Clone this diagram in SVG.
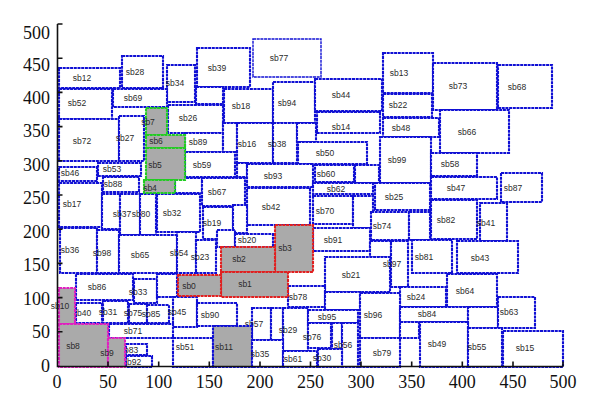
<svg xmlns="http://www.w3.org/2000/svg" width="600" height="411" viewBox="0 0 600 411">
<style>
rect{fill:#fff;stroke:#1010d4;stroke-width:2.1;stroke-dasharray:3 0.7}
rect.g{fill:#aaa}
rect.gn{fill:#aaa;stroke:#22cc22}
rect.rd{fill:#aaa;stroke:#e02020}
rect.mg{fill:#aaa;stroke:#e020c0}
rect.thin{stroke-width:1.4}
text{font-family:"Liberation Sans",Arial,sans-serif;font-size:8.5px;fill:#2a2a2a;text-anchor:middle}
.ax{stroke:#111;stroke-width:1.6;fill:none}
.tl{font-family:"Liberation Serif","Times New Roman",serif;font-size:18px;fill:#111}
.yl{text-anchor:end}
</style>
<rect x="0" y="0" width="600" height="411" style="fill:#fff;stroke:none"/>
<g id="blocks">
<g id="sb12"><rect x="59" y="68" width="61" height="20"/><text x="82" y="81">sb12</text></g>
<g id="sb28"><rect x="122" y="56" width="41" height="32"/><text x="135" y="75">sb28</text></g>
<g id="sb34"><rect x="167" y="65" width="28" height="37"/><text x="175" y="86">sb34</text></g>
<g id="sb39"><rect x="197" y="48" width="53" height="39"/><text x="217" y="71">sb39</text></g>
<g id="sb77"><rect class="thin" x="253" y="39" width="68" height="38"/><text x="279" y="61">sb77</text></g>
<g id="sb52"><rect x="59" y="89" width="53" height="30"/><text x="77" y="106">sb52</text></g>
<g id="sb69"><rect x="113" y="89" width="54" height="18"/><text x="133" y="101">sb69</text></g>
<g id="u1"><rect x="196" y="87" width="27" height="17"/></g>
<g id="sb18"><rect x="224" y="89" width="49" height="34"/><text x="241" y="109">sb18</text></g>
<g id="sb94"><rect x="273" y="82" width="42" height="41"/><text x="287" y="106">sb94</text></g>
<g id="sb44"><rect x="315" y="79" width="67" height="32"/><text x="341" y="98">sb44</text></g>
<g id="sb13"><rect x="383" y="53" width="50" height="40"/><text x="399" y="76">sb13</text></g>
<g id="sb73"><rect x="433" y="63" width="64" height="47"/><text x="458" y="89">sb73</text></g>
<g id="sb68"><rect x="498" y="65" width="54" height="43"/><text x="517" y="90">sb68</text></g>
<g id="sb22"><rect x="383" y="94" width="49" height="23"/><text x="398" y="108">sb22</text></g>
<g id="sb48"><rect x="383" y="118" width="56" height="19"/><text x="401" y="131">sb48</text></g>
<g id="sb66"><rect x="440" y="110" width="69" height="43"/><text x="467" y="135">sb66</text></g>
<g id="sb14"><rect x="317" y="112" width="63" height="21"/><text x="341" y="130">sb14</text></g>
<g id="sb72"><rect x="59" y="119" width="60" height="42"/><text x="82" y="144">sb72</text></g>
<g id="sb27"><rect x="119" y="116" width="25" height="45"/><text x="125" y="141">sb27</text></g>
<g id="sb26"><rect x="168" y="105" width="55" height="28"/><text x="188" y="121">sb26</text></g>
<g id="sb89"><rect x="185" y="133" width="38" height="19"/><text x="198" y="145">sb89</text></g>
<g id="u2"><rect x="223" y="123" width="14" height="29"/></g>
<g id="sb16"><rect x="237" y="123" width="36" height="40"/><text x="247" y="147">sb16</text></g>
<g id="sb38"><rect x="273" y="123" width="24" height="40"/><text x="277" y="147">sb38</text></g>
<g id="u3"><rect x="297" y="123" width="19" height="19"/></g>
<g id="sb50"><rect x="298" y="142" width="69" height="22"/><text x="325" y="156">sb50</text></g>
<g id="sb99"><rect x="380" y="137" width="51" height="46"/><text x="397" y="163">sb99</text></g>
<g id="sb46"><rect x="59" y="167" width="38" height="14"/><text x="70" y="176">sb46</text></g>
<g id="sb53"><rect x="98" y="163" width="43" height="13"/><text x="112" y="172">sb53</text></g>
<g id="sb88"><rect x="103" y="177" width="36" height="15"/><text x="113" y="187">sb88</text></g>
<g id="sb59"><rect x="185" y="152" width="50" height="25"/><text x="202" y="168">sb59</text></g>
<g id="u4"><rect x="237" y="163" width="10" height="14"/></g>
<g id="sb93"><rect x="247" y="164" width="66" height="23"/><text x="273" y="179">sb93</text></g>
<g id="sb60"><rect x="315" y="165" width="39" height="17"/><text x="326" y="177">sb60</text></g>
<g id="u5"><rect x="355" y="165" width="24" height="18"/></g>
<g id="sb58"><rect x="431" y="153" width="46" height="23"/><text x="450" y="167">sb58</text></g>
<g id="u6"><rect x="175" y="178" width="27" height="15"/></g>
<g id="sb67"><rect x="202" y="178" width="43" height="28"/><text x="217" y="195">sb67</text></g>
<g id="sb62"><rect x="313" y="183" width="60" height="11"/><text x="336" y="192">sb62</text></g>
<g id="sb25"><rect x="375" y="183" width="55" height="27"/><text x="394" y="200">sb25</text></g>
<g id="sb47"><rect x="431" y="177" width="66" height="22"/><text x="456" y="191">sb47</text></g>
<g id="sb87"><rect x="501" y="173" width="41" height="29"/><text x="513" y="191">sb87</text></g>
<g id="sb17"><rect x="59" y="183" width="43" height="44"/><text x="72" y="207">sb17</text></g>
<g id="u7"><rect x="102" y="194" width="18" height="35"/></g>
<g id="sb37"><rect x="120" y="194" width="20" height="41"/><text x="122" y="217">sb37</text></g>
<g id="sb80"><rect x="140" y="194" width="16" height="41"/><text x="141" y="217">sb80</text></g>
<g id="sb32"><rect x="157" y="194" width="43" height="38"/><text x="172" y="216">sb32</text></g>
<g id="sb42"><rect x="247" y="188" width="63" height="37"/><text x="271" y="210">sb42</text></g>
<g id="sb70"><rect x="313" y="196" width="40" height="28"/><text x="325" y="214">sb70</text></g>
<g id="u8"><rect x="353" y="196" width="20" height="32"/></g>
<g id="sb19"><rect x="203" y="207" width="30" height="32"/><text x="212" y="226">sb19</text></g>
<g id="u9"><rect x="233" y="205" width="14" height="28"/></g>
<g id="sb74"><rect x="371" y="212" width="38" height="28"/><text x="382" y="229">sb74</text></g>
<g id="u10"><rect x="409" y="212" width="21" height="28"/></g>
<g id="sb82"><rect x="431" y="200" width="46" height="39"/><text x="446" y="223">sb82</text></g>
<g id="sb41"><rect x="480" y="203" width="27" height="38"/><text x="486" y="226">sb41</text></g>
<g id="sb36"><rect x="60" y="228" width="37" height="45"/><text x="70" y="253">sb36</text></g>
<g id="sb98"><rect x="97" y="230" width="22" height="43"/><text x="102" y="256">sb98</text></g>
<g id="sb65"><rect x="119" y="235" width="58" height="38"/><text x="140" y="258">sb65</text></g>
<g id="sb54"><rect x="177" y="232" width="19" height="41"/><text x="179" y="256">sb54</text></g>
<g id="sb23"><rect x="196" y="240" width="20" height="33"/><text x="200" y="260">sb23</text></g>
<g id="u11"><rect x="217" y="230" width="18" height="17"/></g>
<g id="sb20"><rect x="235" y="234" width="38" height="13"/><text x="247" y="243">sb20</text></g>
<g id="sb91"><rect x="313" y="228" width="57" height="23"/><text x="333" y="243">sb91</text></g>
<g id="u12"><rect x="370" y="241" width="21" height="16"/></g>
<g id="sb81"><rect x="412" y="240" width="40" height="33"/><text x="424" y="260">sb81</text></g>
<g id="sb43"><rect x="457" y="241" width="61" height="32"/><text x="480" y="261">sb43</text></g>
<g id="sb21"><rect x="325" y="257" width="65" height="35"/><text x="351" y="278">sb21</text></g>
<g id="sb97"><rect x="391" y="241" width="17" height="46"/><text x="392" y="267">sb97</text></g>
<g id="sb86"><rect x="76" y="274" width="57" height="26"/><text x="97" y="290">sb86</text></g>
<g id="sb33"><rect x="134" y="279" width="23" height="24"/><text x="138" y="295">sb33</text></g>
<g id="u13"><rect x="157" y="274" width="20" height="23"/></g>
<g id="sb78"><rect x="288" y="286" width="37" height="21"/><text x="298" y="300">sb78</text></g>
<g id="u14"><rect x="325" y="292" width="35" height="18"/></g>
<g id="sb24"><rect x="400" y="287" width="46" height="20"/><text x="416" y="300">sb24</text></g>
<g id="sb64"><rect x="447" y="274" width="50" height="33"/><text x="465" y="294">sb64</text></g>
<g id="sb40"><rect x="76" y="303" width="26" height="20"/><text x="82" y="316">sb40</text></g>
<g id="sb31"><rect x="103" y="301" width="25" height="22"/><text x="108" y="315">sb31</text></g>
<g id="sb75"><rect x="129" y="304" width="18" height="19"/><text x="133" y="316">sb75</text></g>
<g id="sb85"><rect x="147" y="305" width="22" height="18"/><text x="151" y="317">sb85</text></g>
<g id="sb45"><rect x="173" y="297" width="24" height="30"/><text x="177" y="315">sb45</text></g>
<g id="sb90"><rect x="197" y="303" width="40" height="23"/><text x="210" y="318">sb90</text></g>
<g id="sb57"><rect x="252" y="308" width="19" height="32"/><text x="254" y="327">sb57</text></g>
<g id="u15"><rect x="271" y="308" width="12" height="32"/></g>
<g id="sb29"><rect x="283" y="308" width="25" height="43"/><text x="288" y="333">sb29</text></g>
<g id="sb95"><rect x="308" y="310" width="50" height="13"/><text x="327" y="320">sb95</text></g>
<g id="sb96"><rect x="360" y="293" width="40" height="45"/><text x="373" y="318">sb96</text></g>
<g id="sb84"><rect x="400" y="307" width="68" height="15"/><text x="427" y="317">sb84</text></g>
<g id="u16"><rect x="468" y="307" width="30" height="21"/></g>
<g id="sb63"><rect x="498" y="297" width="37" height="31"/><text x="509" y="315">sb63</text></g>
<g id="sb71"><rect x="109" y="324" width="64" height="14"/><text x="133" y="334">sb71</text></g>
<g id="sb76"><rect x="308" y="323" width="23" height="25"/><text x="312" y="340">sb76</text></g>
<g id="u17"><rect x="332" y="323" width="10" height="26"/></g>
<g id="sb56"><rect x="342" y="323" width="16" height="44"/><text x="343" y="348">sb56</text></g>
<g id="sb83"><rect x="126" y="344" width="21" height="11"/><text x="129" y="353">sb83</text></g>
<g id="sb92"><rect x="126" y="356" width="26" height="11"/><text x="132" y="365">sb92</text></g>
<g id="sb51"><rect x="173" y="338" width="40" height="29"/><text x="185" y="350">sb51</text></g>
<g id="sb11"><rect class="g" x="213" y="326" width="39" height="41"/><text x="224" y="350">sb11</text></g>
<g id="sb35"><rect x="252" y="340" width="31" height="27"/><text x="260" y="357">sb35</text></g>
<g id="sb61"><rect x="283" y="351" width="34" height="16"/><text x="293" y="362">sb61</text></g>
<g id="sb30"><rect x="318" y="349" width="24" height="18"/><text x="322" y="361">sb30</text></g>
<g id="sb79"><rect x="360" y="338" width="40" height="29"/><text x="382" y="356">sb79</text></g>
<g id="u18"><rect x="400" y="322" width="19" height="16"/></g>
<g id="sb49"><rect x="420" y="322" width="48" height="45"/><text x="437" y="347">sb49</text></g>
<g id="sb55"><rect x="468" y="328" width="34" height="39"/><text x="477" y="350">sb55</text></g>
<g id="sb15"><rect x="503" y="331" width="60" height="36"/><text x="525" y="351">sb15</text></g>
<g id="sb7"><rect class="gn" x="146" y="108" width="21" height="27"/><text x="148" y="125">sb7</text></g>
<g id="sb6"><rect class="gn" x="146" y="135" width="39" height="13"/><text x="156" y="144">sb6</text></g>
<g id="sb5"><rect class="gn" x="146" y="148" width="39" height="32"/><text x="155" y="168">sb5</text></g>
<g id="sb4"><rect class="gn" x="144" y="180" width="31" height="13"/><text x="150" y="191">sb4</text></g>
<g id="sb3"><rect class="rd" x="275" y="225" width="38" height="47"/><text x="285" y="251">sb3</text></g>
<g id="sb2"><rect class="rd" x="221" y="247" width="54" height="25"/><text x="239" y="262">sb2</text></g>
<g id="sb1"><rect class="rd" x="221" y="272" width="67" height="25"/><text x="245" y="287">sb1</text></g>
<g id="sb0"><rect class="rd" x="178" y="275" width="43" height="21"/><text x="189" y="289">sb0</text></g>
<g id="sb10"><rect class="mg" x="59" y="288" width="16" height="36"/><text x="60" y="309">sb10</text></g>
<g id="sb8"><rect class="mg" x="59" y="324" width="49" height="43"/><text x="73" y="349">sb8</text></g>
<g id="sb9"><rect class="mg" x="108" y="338" width="17" height="29"/><text x="107" y="356">sb9</text></g>
</g>
<g id="connectors"></g>
<g id="axes">
<path class="ax" d="M57.5,24 V366.5 H563"/>
<path class="ax" d="M57.5,24h5M57.5,58.2h5M57.5,92.4h5M57.5,126.6h5M57.5,160.8h5M57.5,195h5M57.5,229.2h5M57.5,263.4h5M57.5,297.6h5M57.5,331.8h5"/>
<path class="ax" d="M108,366.5v-5M158.7,366.5v-5M209.3,366.5v-5M260,366.5v-5M310.5,366.5v-5M361,366.5v-5M411.7,366.5v-5M462.3,366.5v-5M513,366.5v-5M563,366.5v-5"/>
<text class="tl yl" x="50" y="39">500</text>
<text class="tl yl" x="50" y="71">450</text>
<text class="tl yl" x="50" y="104">400</text>
<text class="tl yl" x="50" y="137">350</text>
<text class="tl yl" x="50" y="171">300</text>
<text class="tl yl" x="50" y="204">250</text>
<text class="tl yl" x="50" y="238">200</text>
<text class="tl yl" x="50" y="271">150</text>
<text class="tl yl" x="50" y="305">100</text>
<text class="tl yl" x="50" y="338">50</text>
<text class="tl yl" x="50" y="372">0</text>
<text class="tl" x="57" y="388">0</text>
<text class="tl" x="108" y="388">50</text>
<text class="tl" x="158.7" y="388">100</text>
<text class="tl" x="209.3" y="388">150</text>
<text class="tl" x="260" y="388">200</text>
<text class="tl" x="310.5" y="388">250</text>
<text class="tl" x="361" y="388">300</text>
<text class="tl" x="411.7" y="388">350</text>
<text class="tl" x="462.3" y="388">400</text>
<text class="tl" x="513" y="388">450</text>
<text class="tl" x="563" y="388">500</text>
</g>
</svg>
